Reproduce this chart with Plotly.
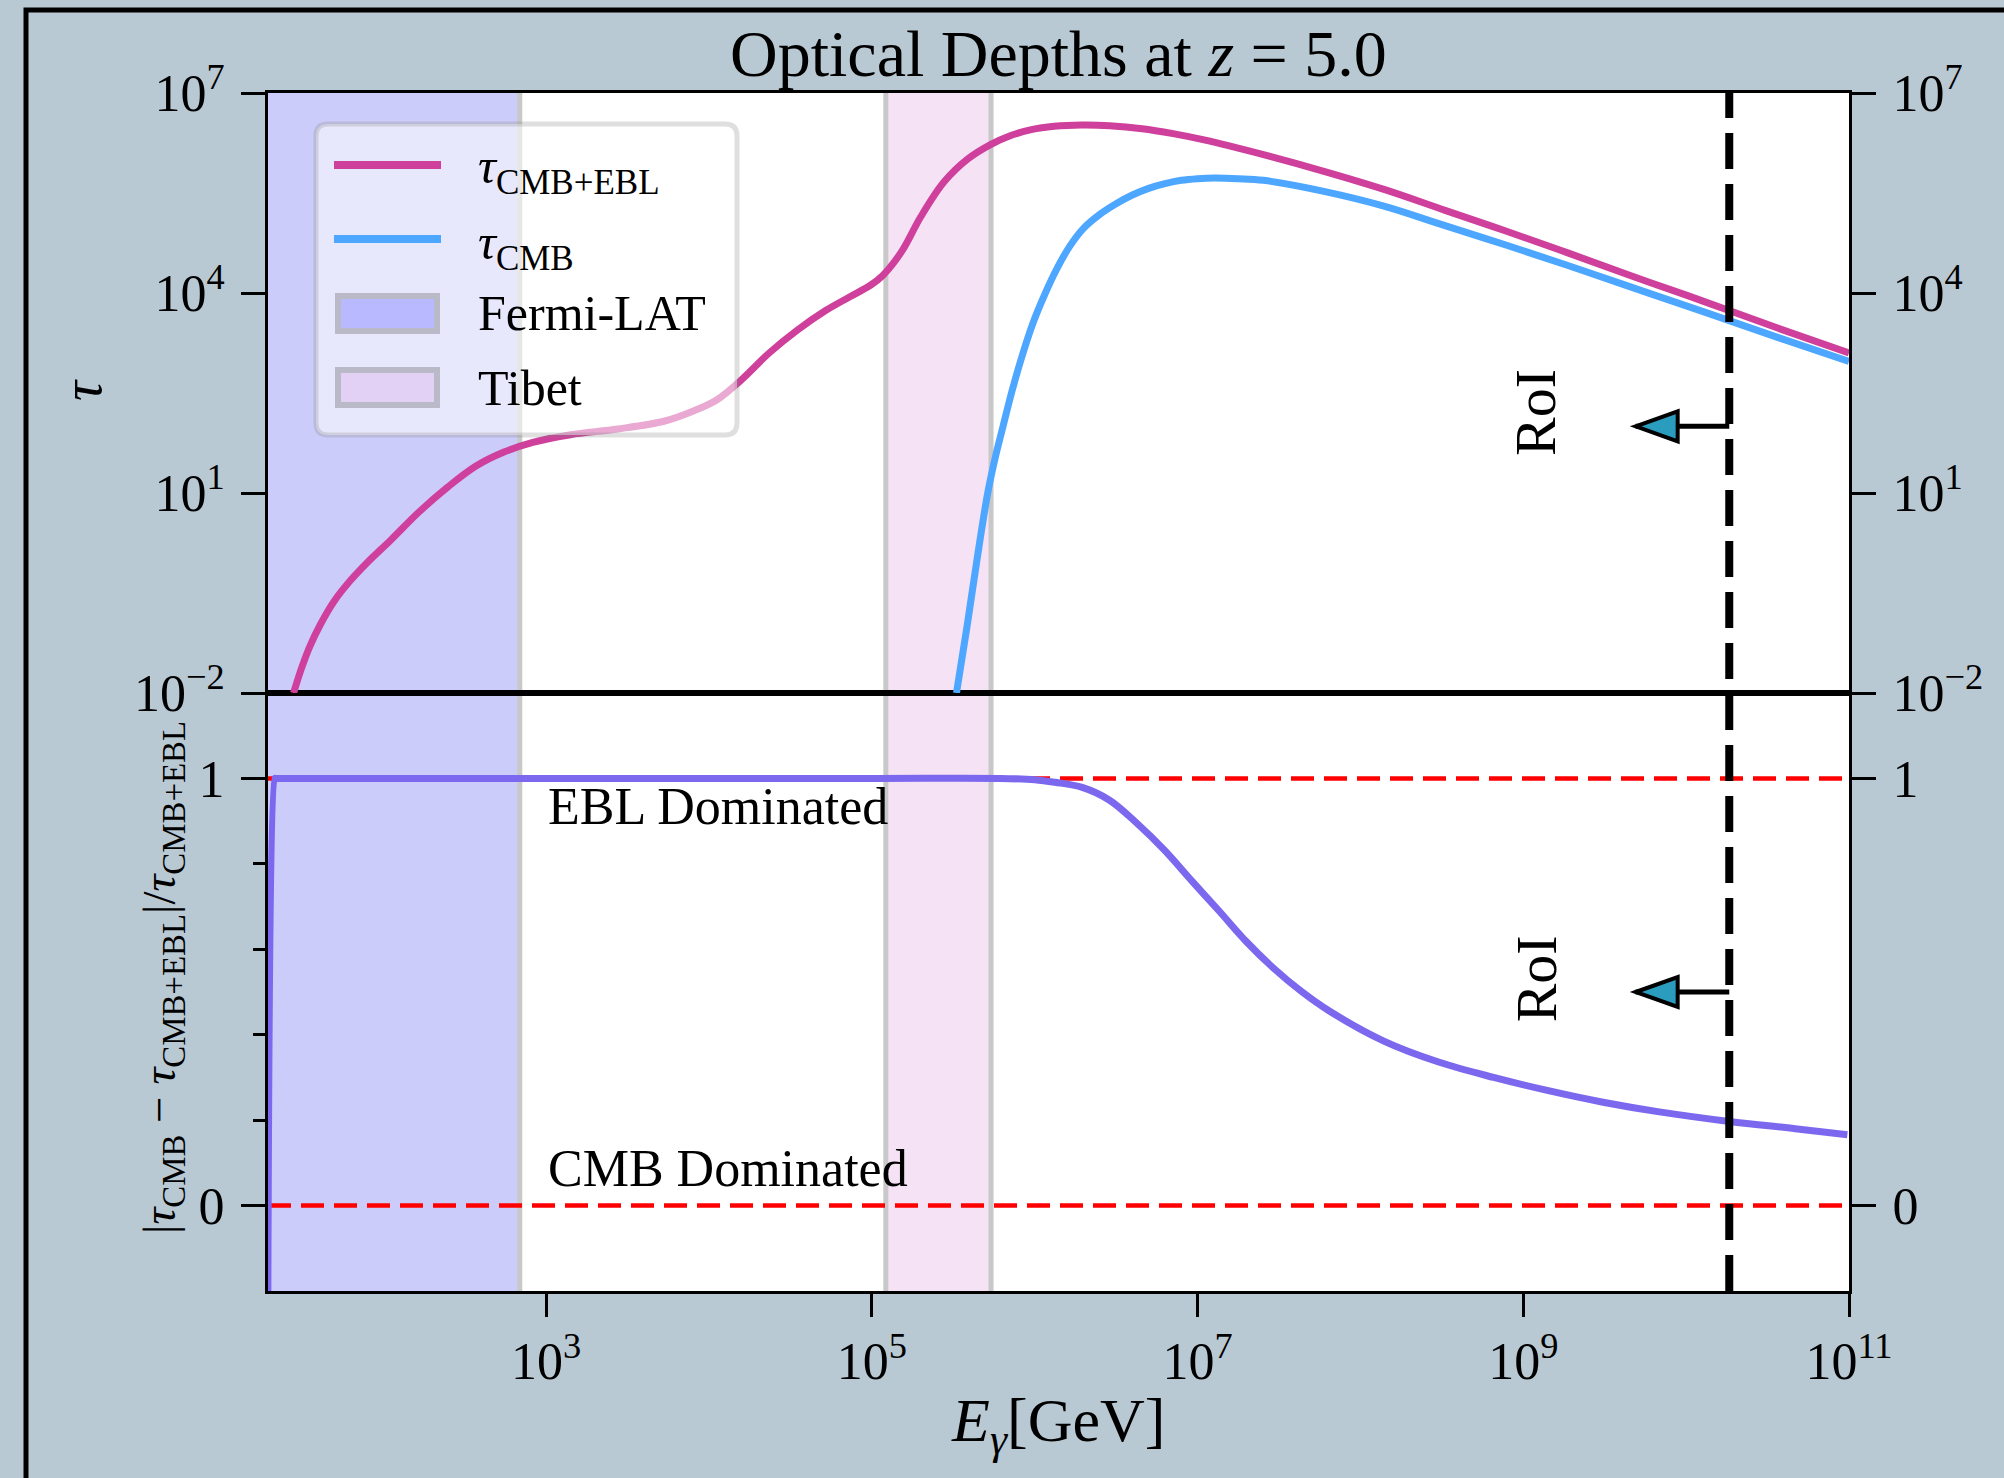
import numpy as np
import plotly.graph_objects as go

# ---------------------------------------------------------------------------
# Optical depth curves (log10 E [GeV], log10 tau)
# ---------------------------------------------------------------------------
LOG_E_TOT = [1.45, 1.50, 1.55, 1.613, 1.70, 1.80, 1.90, 2.049, 2.22, 2.397,
             2.57, 2.742, 2.919, 3.151, 3.44, 3.73, 3.905, 4.05, 4.196, 4.37,
             4.544, 4.719, 4.863, 4.994, 5.066, 5.183, 5.30, 5.443, 5.589,
             5.732, 5.85, 5.98, 6.12, 6.289, 6.46, 6.66, 6.85, 7.033, 7.405, 7.776,
             8.15, 8.52, 8.893, 9.265, 9.636, 10.01, 10.26, 10.566, 11.0]
LOG_TAU_TOT = [-2.0, -1.62, -1.30, -0.98, -0.62, -0.31, -0.05, 0.30, 0.715, 1.09,
               1.405, 1.615, 1.76, 1.875, 1.96, 2.08, 2.23, 2.40, 2.69, 3.10,
               3.445, 3.74, 3.94, 4.12, 4.26, 4.62, 5.14, 5.665, 6.01,
               6.23, 6.36, 6.45, 6.50, 6.52, 6.51, 6.465, 6.39, 6.30, 6.075, 5.825,
               5.55, 5.24, 4.93, 4.61, 4.28, 3.96, 3.74, 3.47, 3.10]

LOG_E_CMB = [5.52, 5.585, 5.646, 5.712, 5.76, 5.806, 5.86, 5.916, 5.99, 6.066,
             6.14, 6.215, 6.30, 6.40, 6.50, 6.60, 6.70, 6.80, 6.90, 7.0, 7.107, 7.25,
             7.405, 7.776, 8.15, 8.52, 8.893, 9.265, 9.636, 10.01, 10.26, 10.566, 11.0]
LOG_TAU_CMB = [-2.0, -1.0, 0.0, 1.0, 1.55, 2.0, 2.52, 3.0, 3.55, 4.0,
               4.38, 4.70, 4.97, 5.18, 5.34, 5.47, 5.57, 5.64, 5.69, 5.715, 5.725, 5.715,
               5.69, 5.525, 5.30, 5.01, 4.72, 4.42, 4.11, 3.80, 3.59, 3.33, 2.975]

# Relative difference |tau_CMB - tau_tot| / tau_tot
LOG_E_RATIO = [1.29, 1.335, 1.338, 3.0, 5.0, 5.787, 6.0, 6.123, 6.292, 6.46, 6.628,
               6.797, 6.965, 7.134, 7.302, 7.469, 7.639, 7.807, 8.144, 8.48,
               8.818, 9.154, 9.49, 9.826, 10.265, 10.67, 10.99]
RATIO = [-0.5, 1.0, 1.0, 1.0, 1.0, 1.0, 0.997, 0.991, 0.979, 0.949, 0.895,
         0.832, 0.760, 0.689, 0.617, 0.555, 0.501, 0.456, 0.385, 0.336,
         0.300, 0.269, 0.242, 0.220, 0.197, 0.180, 0.166]

# Instrument energy windows [GeV]
FERMI_LAT_GEV = (1.0e1, 6.9e2)
TIBET_GEV = (1.22e5, 5.4e5)

# Region of interest marker
ROI_EDGE_GEV = 1.84e10
ROI_ARROW_TIP_GEV = 4.9e9
ROI_ARROW_TAU = 1.0e2
ROI_ARROW_RATIO = 0.5
ROI_LABEL_GEV = 1.2e9
ROI_LABEL_TAU = 1.6e2
ROI_LABEL_RATIO = 0.53

DOMINANCE_LEVELS = [0.0, 1.0]
EBL_TEXT_POS = (1.0e3, 0.935)
CMB_TEXT_POS = (1.0e3, 0.086)

X_TICKS = [1e3, 1e5, 1e7, 1e9, 1e11]
X_TICK_TEXT = ["10<sup>3</sup>", "10<sup>5</sup>", "10<sup>7</sup>",
               "10<sup>9</sup>", "10<sup>11</sup>"]
TAU_TICKS = [1e-2, 1e1, 1e4, 1e7]
TAU_TICK_TEXT = ["10<sup>\u22122</sup>", "10<sup>1</sup>", "10<sup>4</sup>",
                 "10<sup>7</sup>"]
RATIO_TICKS = [0, 1]
RATIO_MINOR = [0.2, 0.4, 0.6, 0.8]

X_RANGE = [1.293, 11.0]
TAU_RANGE = [-2, 7]
RATIO_RANGE = [-0.2, 1.2]

# ---------------------------------------------------------------------------
# Styling
# ---------------------------------------------------------------------------
FIG_W, FIG_H = 2004, 1478
M_L, M_R, M_T, M_B = 268, 155, 93, 187
PW = FIG_W - M_L - M_R
PH = FIG_H - M_T - M_B
SPLIT = 598 / PH

FONT = "Liberation Serif"
BG = "rgb(185,201,211)"
C_TOT = "rgb(206,64,155)"
C_CMB = "rgb(77,166,255)"
C_RATIO = "rgb(123,104,238)"
C_FERMI = "rgb(204,204,251)"
C_TIBET = "rgb(246,226,245)"
C_EDGE = "rgb(200,200,200)"
C_HEAD = "rgb(42,157,190)"
LW = 7


def paper_x(px):
    return (px - M_L) / PW


def paper_y(py):
    return (FIG_H - M_B - py) / PH


fig = go.Figure()

fig.add_trace(go.Scatter(
    x=np.power(10.0, LOG_E_TOT), y=np.power(10.0, LOG_TAU_TOT),
    xaxis="x2", yaxis="y2", mode="lines", showlegend=False,
    line=dict(color=C_TOT, width=LW, shape="spline", smoothing=1.0),
    name="tau CMB+EBL"))
fig.add_trace(go.Scatter(
    x=np.power(10.0, LOG_E_CMB), y=np.power(10.0, LOG_TAU_CMB),
    xaxis="x2", yaxis="y2", mode="lines", showlegend=False,
    line=dict(color=C_CMB, width=LW, shape="spline", smoothing=1.0),
    name="tau CMB"))
fig.add_trace(go.Scatter(
    x=np.power(10.0, LOG_E_RATIO), y=RATIO,
    xaxis="x", yaxis="y", mode="lines", showlegend=False,
    line=dict(color=C_RATIO, width=LW, shape="spline", smoothing=1.0), name="ratio"))
# empty traces that carry the right-hand tick axes
fig.add_trace(go.Scatter(x=[], y=[], xaxis="x2", yaxis="y3", showlegend=False))
fig.add_trace(go.Scatter(x=[], y=[], xaxis="x", yaxis="y4", showlegend=False))

shapes = []
# instrument bands spanning both panels
x_lo = 10 ** X_RANGE[0]
for (lo, hi), col in ((FERMI_LAT_GEV, C_FERMI), (TIBET_GEV, C_TIBET)):
    shapes.append(dict(type="rect", xref="x", yref="paper", x0=max(lo, x_lo), x1=hi,
                       y0=0, y1=1, fillcolor=col, line=dict(width=0), layer="below"))
for edge in (FERMI_LAT_GEV[1], TIBET_GEV[0], TIBET_GEV[1]):
    shapes.append(dict(type="line", xref="x", yref="paper", x0=edge, x1=edge,
                       y0=0, y1=1, line=dict(color=C_EDGE, width=5), layer="below"))
# dominance reference levels
for lvl in DOMINANCE_LEVELS:
    shapes.append(dict(type="line", xref="x domain", yref="y", x0=0, x1=1,
                       y0=lvl, y1=lvl, line=dict(color="red", width=4.5, dash="23px,10px"),
                       layer="below"))
# RoI boundary
shapes.append(dict(type="line", xref="x", yref="paper", x0=ROI_EDGE_GEV, x1=ROI_EDGE_GEV,
                   y0=0, y1=1, line=dict(color="black", width=8, dash="36px,15px"),
                   layer="above"))
# RoI arrows
for xr, yr, yv in (("x2", "y2", ROI_ARROW_TAU), ("x", "y", ROI_ARROW_RATIO)):
    shapes.append(dict(type="line", xref=xr, yref=yr, x0=ROI_EDGE_GEV, x1=ROI_ARROW_TIP_GEV,
                       y0=yv, y1=yv, line=dict(color="black", width=5), layer="above"))
    shapes.append(dict(type="path", xref=xr, yref=yr, xsizemode="pixel", ysizemode="pixel",
                       xanchor=ROI_ARROW_TIP_GEV, yanchor=yv,
                       path="M0,0 L42,15 L42,-15 Z", fillcolor=C_HEAD,
                       line=dict(color="black", width=4), layer="above"))


def rounded_rect(x0, y0, x1, y1, r):
    def P(x, y):
        return f"{paper_x(x):.5f},{paper_y(y):.5f}"
    return (f"M{P(x0 + r, y0)} L{P(x1 - r, y0)} Q{P(x1, y0)} {P(x1, y0 + r)} "
            f"L{P(x1, y1 - r)} Q{P(x1, y1)} {P(x1 - r, y1)} L{P(x0 + r, y1)} "
            f"Q{P(x0, y1)} {P(x0, y1 - r)} L{P(x0, y0 + r)} Q{P(x0, y0)} {P(x0 + r, y0)} Z")


# legend box
shapes.append(dict(type="path", xref="paper", yref="paper",
                   path=rounded_rect(316, 124, 737, 435, 12),
                   fillcolor="rgba(255,255,255,0.55)",
                   line=dict(color="rgba(128,128,128,0.25)", width=5), layer="above"))
for py, col in ((165, C_TOT), (239, C_CMB)):
    shapes.append(dict(type="line", xref="paper", yref="paper",
                       x0=paper_x(334), x1=paper_x(441), y0=paper_y(py), y1=paper_y(py),
                       line=dict(color=col, width=8), layer="above"))
for (py0, py1), col in (((296, 331), "rgb(185,185,255)"), ((370, 405), "rgb(227,208,245)")):
    shapes.append(dict(type="rect", xref="paper", yref="paper",
                       x0=paper_x(338), x1=paper_x(437), y0=paper_y(py1), y1=paper_y(py0),
                       fillcolor=col, line=dict(color="rgb(185,185,200)", width=6),
                       layer="above"))
# figure frame
shapes.append(dict(type="path", xref="paper", yref="paper",
                   path=f"M{paper_x(26)},{paper_y(FIG_H + 10)} L{paper_x(26)},{paper_y(10)} "
                        f"L{paper_x(FIG_W + 10)},{paper_y(10)}",
                   line=dict(color="black", width=5), layer="above"))

tfont = dict(family=FONT, size=52, color="black")
lfont = dict(family=FONT, size=50, color="black")
annotations = [
    dict(text="Optical Depths at <i>z</i> = 5.0", xref="paper", yref="paper",
         x=paper_x(1058), y=paper_y(54), showarrow=False,
         font=dict(family=FONT, size=66, color="black"),
         xanchor="center", yanchor="middle"),
    dict(text="<i>E</i><sub><i>γ</i></sub>[GeV]", xref="paper", yref="paper",
         x=paper_x(1058), y=paper_y(1424), showarrow=False,
         font=dict(family=FONT, size=62, color="black"),
         xanchor="center", yanchor="middle"),
    dict(text="<i>τ</i>", xref="paper", yref="paper", x=paper_x(82), y=paper_y(390),
         showarrow=False, font=dict(family=FONT, size=56, color="black"), textangle=-90,
         xanchor="center", yanchor="middle"),
    dict(text="|<i>τ</i><sub>CMB</sub> − <i>τ</i><sub>CMB+EBL</sub>|/<i>τ</i><sub>CMB+EBL</sub>",
         xref="paper", yref="paper", x=paper_x(163), y=paper_y(978), showarrow=False,
         font=dict(family=FONT, size=47, color="black"), textangle=-90,
         xanchor="center", yanchor="middle"),
    dict(text="EBL Dominated", xref="x", yref="y", x=np.log10(EBL_TEXT_POS[0]), y=EBL_TEXT_POS[1],
         showarrow=False, font=tfont, xanchor="left", yanchor="middle"),
    dict(text="CMB Dominated", xref="x", yref="y", x=np.log10(CMB_TEXT_POS[0]), y=CMB_TEXT_POS[1],
         showarrow=False, font=tfont, xanchor="left", yanchor="middle"),
    dict(text="RoI", xref="x2", yref="y2", x=np.log10(ROI_LABEL_GEV), y=np.log10(ROI_LABEL_TAU),
         showarrow=False, font=dict(family=FONT, size=58, color="black"), textangle=-90,
         xanchor="center", yanchor="middle"),
    dict(text="RoI", xref="x", yref="y", x=np.log10(ROI_LABEL_GEV), y=ROI_LABEL_RATIO,
         showarrow=False, font=dict(family=FONT, size=58, color="black"), textangle=-90,
         xanchor="center", yanchor="middle"),
]
legend_rows = [
    ("<i>τ</i><sub>CMB+EBL</sub>", 170),
    ("<i>τ</i><sub>CMB</sub>", 246),
    ("Fermi-LAT", 313),
    ("Tibet", 388),
]
for txt, py in legend_rows:
    annotations.append(dict(text=txt, xref="paper", yref="paper", x=paper_x(476), y=paper_y(py),
                            showarrow=False, font=lfont, xanchor="left", yanchor="middle"))

axis_common = dict(showline=True, linewidth=3, linecolor="black", showgrid=False,
                   zeroline=False, tickfont=tfont, tickcolor="black", tickwidth=3)

fig.update_layout(
    width=FIG_W, height=FIG_H,
    margin=dict(l=M_L, r=M_R, t=M_T, b=M_B, pad=0),
    paper_bgcolor=BG, plot_bgcolor="white",
    showlegend=False,
    font=dict(family=FONT, color="black"),
    xaxis=dict(domain=[0, 1], anchor="y", type="log", range=X_RANGE,
               tickmode="array", tickvals=X_TICKS, ticktext=X_TICK_TEXT,
               ticks="outside", ticklen=23, mirror=True, **axis_common),
    xaxis2=dict(domain=[0, 1], anchor="y2", type="log", range=X_RANGE, matches="x",
                showticklabels=False, ticks="", mirror=True, **axis_common),
    yaxis=dict(domain=[0, SPLIT], anchor="x", range=RATIO_RANGE,
               tickmode="array", tickvals=RATIO_TICKS, ticktext=["0", "1"],
               ticks="outside", ticklen=24, mirror=True, ticklabelstandoff=6,
               minor=dict(tickmode="array", tickvals=RATIO_MINOR, ticks="outside",
                          ticklen=12, tickwidth=3, tickcolor="black", showgrid=False),
               **axis_common),
    yaxis2=dict(domain=[SPLIT, 1], anchor="x2", type="log", range=TAU_RANGE,
                tickmode="array", tickvals=TAU_TICKS, ticktext=TAU_TICK_TEXT,
                ticks="outside", ticklen=24, mirror=True, ticklabelstandoff=6,
                **axis_common),
    yaxis3=dict(overlaying="y2", anchor="x2", side="right", type="log", range=TAU_RANGE,
                tickmode="array", tickvals=TAU_TICKS, ticktext=TAU_TICK_TEXT,
                ticks="outside", ticklen=24, ticklabelstandoff=6, **axis_common),
    yaxis4=dict(overlaying="y", anchor="x", side="right", range=RATIO_RANGE,
                tickmode="array", tickvals=RATIO_TICKS, ticktext=["0", "1"],
                ticks="outside", ticklen=24, ticklabelstandoff=6, **axis_common),
    shapes=shapes,
    annotations=annotations,
)

fig.write_html("out.html")
